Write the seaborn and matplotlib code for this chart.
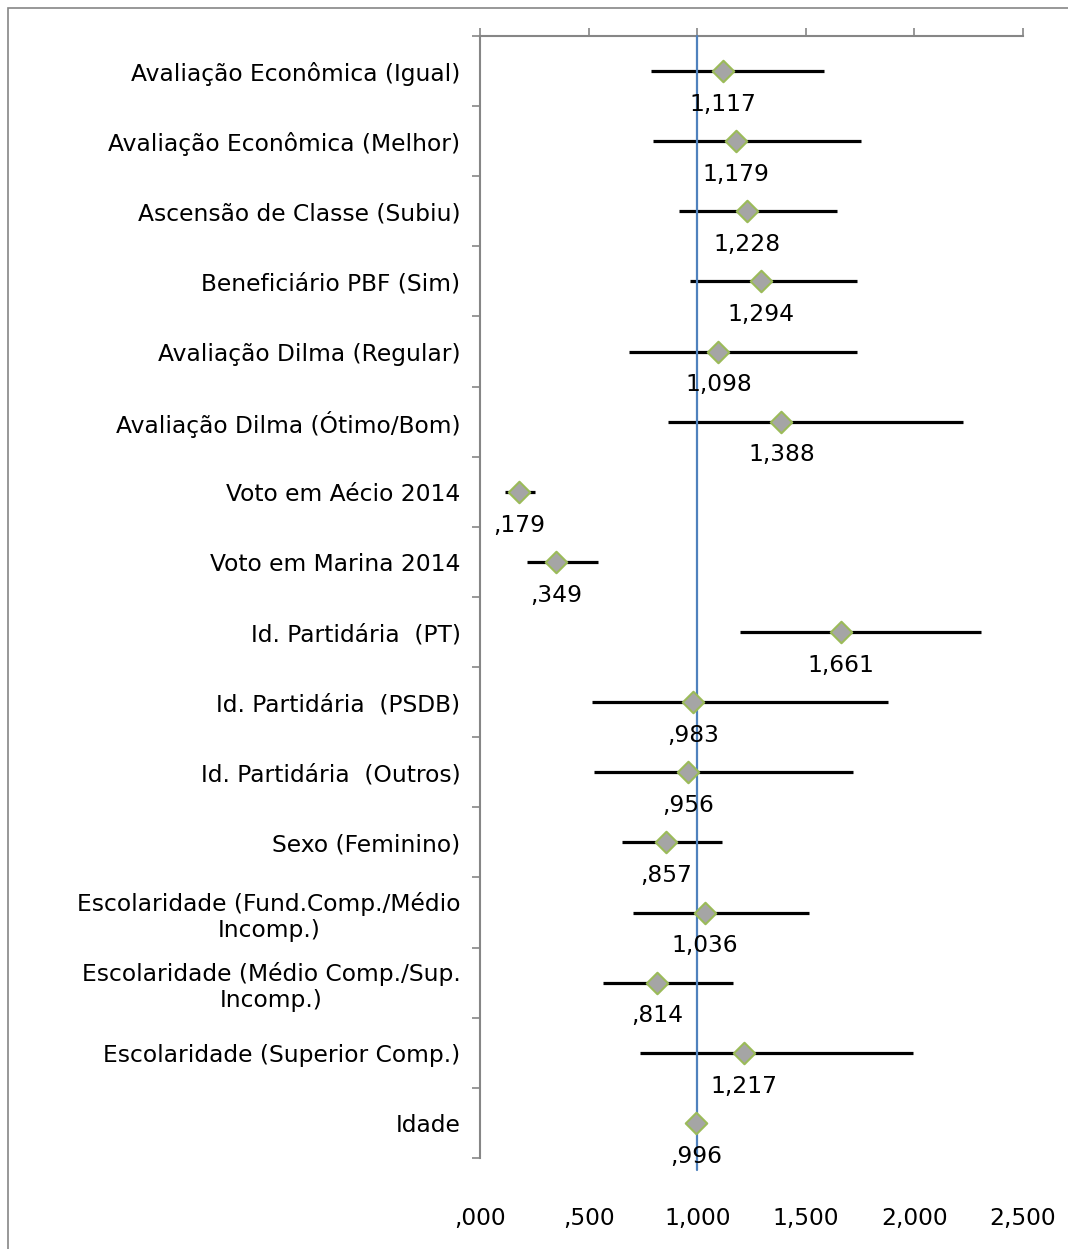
import numpy as np
import pandas as pd
import matplotlib
matplotlib.use("Agg")
import matplotlib.pyplot as plt
from matplotlib.patches import Rectangle
import seaborn as sns

variables = [
    "Avaliação Econômica (Igual)",
    "Avaliação Econômica (Melhor)",
    "Ascensão de Classe (Subiu)",
    "Beneficiário PBF (Sim)",
    "Avaliação Dilma (Regular)",
    "Avaliação Dilma (Ótimo/Bom)",
    "Voto em Aécio 2014",
    "Voto em Marina 2014",
    "Id. Partidária  (PT)",
    "Id. Partidária  (PSDB)",
    "Id. Partidária  (Outros)",
    "Sexo (Feminino)",
    "Escolaridade (Fund.Comp./Médio\nIncomp.)",
    "Escolaridade (Médio Comp./Sup.\nIncomp.)",
    "Escolaridade (Superior Comp.)",
    "Idade",
]
odds = [1.117, 1.179, 1.228, 1.294, 1.098, 1.388, 0.179, 0.349,
        1.661, 0.983, 0.956, 0.857, 1.036, 0.814, 1.217, 0.996]
ci_low = [0.787, 0.797, 0.916, 0.967, 0.686, 0.866, 0.115, 0.216,
          1.197, 0.516, 0.525, 0.654, 0.704, 0.566, 0.737, 0.990]
ci_high = [1.584, 1.754, 1.644, 1.736, 1.736, 2.224, 0.253, 0.543,
           2.307, 1.878, 1.717, 1.114, 1.515, 1.165, 1.994, 1.002]
xticks = [0.0, 0.5, 1.0, 1.5, 2.0, 2.5]


def fmt(v):
    s = f"{v:.3f}".replace(".", ",")
    return s[1:] if s.startswith("0") else s


df = pd.DataFrame({"var": variables, "or": odds, "lo": ci_low, "hi": ci_high})
df["pos"] = np.arange(len(df))

sns.set_style("white", {"text.color": "black", "xtick.color": "#868686",
                        "ytick.color": "#868686"})
plt.rcParams["font.family"] = ["DejaVu Sans"]
fs = 16.8

fig = plt.figure(figsize=(10.68, 12.49), dpi=100)
ax = fig.add_axes([0.4494, 0.0729, 0.5085, 0.8983])

ax.hlines(df["pos"], df["lo"], df["hi"], color="black", lw=2.3, zorder=2)
ax.axvline(1.0, ymin=-0.011, ymax=1, color="#4f81bd", lw=1.6, zorder=3, clip_on=False)
sns.scatterplot(data=df, x="or", y="pos", marker="D", s=120, color="#a5a5a5",
                edgecolor="#9bbb59", linewidth=1.5, zorder=4, ax=ax, legend=False)

for _, r in df.iterrows():
    ax.annotate(fmt(r["or"]), (r["or"], r["pos"]), xytext=(0, -24),
                textcoords="offset points", ha="center", va="center",
                fontsize=fs, color="black")

ax.set_xlim(0, 2.5)
ax.set_ylim(len(df) - 0.5, -0.5)
ax.set_xticks(xticks)
ax.set_xticklabels([fmt(v) for v in xticks])
ax.set_yticks(df["pos"])
ax.set_yticklabels(df["var"])
for lab in ax.get_yticklabels():
    lab.set_multialignment("center")
ax.set_yticks(np.arange(len(df) + 1) - 0.5, minor=True)
ax.set_xlabel("")
ax.set_ylabel("")

ax.tick_params(axis="x", which="major", top=True, bottom=False, labeltop=False,
               labelbottom=True, direction="out", length=6, color="#868686",
               width=1.2, labelsize=fs, labelcolor="black", pad=29)
ax.tick_params(axis="y", which="major", left=False, length=0, labelsize=fs,
               labelcolor="black", pad=14)
ax.tick_params(axis="y", which="minor", left=True, direction="out", length=6,
               color="#868686", width=1.2)

for side in ["right", "bottom"]:
    ax.spines[side].set_visible(False)
for side in ["top", "left"]:
    ax.spines[side].set_color("#868686")
    ax.spines[side].set_linewidth(1.5)

fig.patches.append(Rectangle((0.0075, -0.02), 1.2, 1.0136, transform=fig.transFigure,
                             fill=False, edgecolor="#868686", lw=1.2))

fig.savefig("out.png", dpi=100)
